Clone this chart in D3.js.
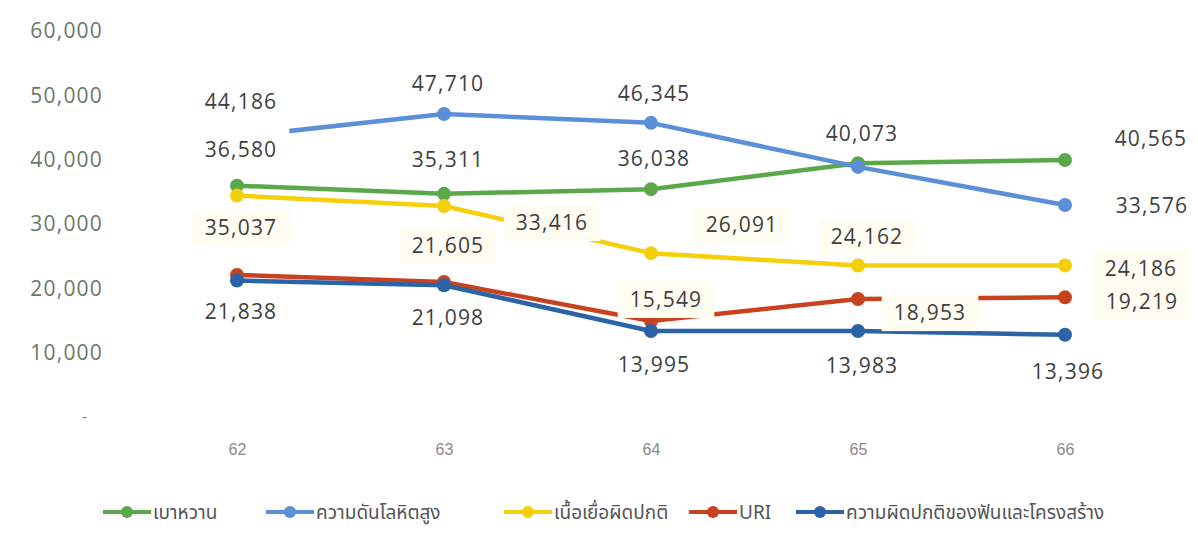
<!DOCTYPE html>
<html>
<head>
<meta charset="utf-8">
<script src="https://cdn.jsdelivr.net/npm/d3@7"></script>
<style>
  html, body { margin: 0; padding: 0; background: #ffffff; }
  svg { display: block; }
</style>
</head>
<body>
<svg id="chart" width="1198" height="538"></svg>
<script>
// ---- data ----
const years = ["62", "63", "64", "65", "66"];
const seriesNames = ["เบาหวาน", "ความดันโลหิตสูง", "เนื้อเยื่อผิดปกติ", "URI", "ความผิดปกติของฟันและโครงสร้าง"];
const diabetes     = [36580, 35311, 36038, 40073, 40565];
const hypertension = [44186, 47710, 46345, 39500, 33576]; // 65 unlabeled: estimated
const tissue       = [35037, 33416, 26091, 24162, 24186];
const uri          = [22700, 21605, 15549, 18953, 19219]; // 62 unlabeled: estimated
const dental       = [21838, 21098, 13995, 13983, 13396];
const yTicks = [0, 10000, 20000, 30000, 40000, 50000, 60000];
// which points carry a visible data label
const showLabel = [
  [true, true, true, true, true],
  [true, true, true, false, true],
  [true, true, true, true, true],
  [false, true, true, true, true],
  [true, true, true, true, true]
];

// ---- styling / layout ----
const colors = ["#5aa84a", "#5b90d8", "#f4cf0a", "#c9421f", "#2b64a6"];
const labelBg = ["#ffffff", "#ffffff", "#fffdf2", "#fffdf2", "#ffffff"];
// label offsets (dx, dy) from each point
const labelOff = [
  [[4,-36],[4,-34],[3,-31],[4,-30],[86,-21]],
  [[4,-35],[4,-30],[3,-29],[0,0],[87,1]],
  [[4,32],[108,17],[91,-28],[9,-29],[76,3]],
  [[0,0],[4,-36],[15,-21],[72,14],[77,4]],
  [[4,31],[4,32],[3,34],[4,35],[3,37]]
];
// extra top padding of label boxes
const labelPadTop = [
  [12,0,0,0,0],
  [0,0,0,0,0],
  [0,0,0,0,0],
  [0,0,0,0,0],
  [0,0,0,0,0]
];
const legendX = [103, 266, 504, 689, 796];

const svg = d3.select("#chart");
const x = d3.scalePoint().domain(years).range([237, 1065]);
const y = d3.scaleLinear().domain([0, 60000]).range([421, 35]);

const numFont = "'Open Sans', 'DejaVu Sans', sans-serif";
const fmt = d3.format(",");

// y axis labels
const yAxis = d3.axisLeft(y).tickValues(yTicks).tickSize(0).tickPadding(0)
  .tickFormat(d => d === 0 ? "-" : fmt(d));
const gy = svg.append("g").attr("transform", "translate(103,-4)").call(yAxis);
gy.select(".domain").remove();
gy.selectAll("text")
  .attr("font-family", numFont).attr("font-size", 21).attr("letter-spacing", "1.2px")
  .attr("fill", "#6a776b");
gy.selectAll(".tick").filter(d => d === 0).select("text")
  .attr("font-size", 14).attr("transform", "translate(-15,0)");

// x axis labels
const xAxis = d3.axisBottom(x).tickSize(0).tickPadding(0);
const gx = svg.append("g").attr("transform", "translate(0,444)").call(xAxis);
gx.select(".domain").remove();
gx.selectAll("text").attr("font-family", "'Liberation Sans', Arial, sans-serif")
  .attr("font-size", 16).attr("fill", "#8a8a8a");

const allSeries = [diabetes, hypertension, tissue, uri, dental];
const line = d3.line().x((d, i) => x(years[i])).y(d => y(d));

// lines and markers
allSeries.forEach((vals, s) => {
  const g = svg.append("g");
  g.append("path").datum(vals).attr("d", line)
    .attr("fill", "none").attr("stroke", colors[s]).attr("stroke-width", 4.5)
    .attr("stroke-linejoin", "round");
  g.selectAll("circle").data(vals).join("circle")
    .attr("cx", (d, i) => x(years[i])).attr("cy", d => y(d)).attr("r", 7)
    .attr("fill", colors[s]);
});

// data labels (with background boxes that cover lines)
allSeries.forEach((vals, s) => {
  vals.forEach((v, i) => {
    if (!showLabel[s][i]) return;
    const cx = x(years[i]) + labelOff[s][i][0];
    const cy = y(v) + labelOff[s][i][1];
    const g = svg.append("g");
    const t = g.append("text")
      .attr("x", cx).attr("y", cy).attr("dy", "0.35em")
      .attr("text-anchor", "middle")
      .attr("font-family", numFont).attr("font-size", 21).attr("letter-spacing", "1.2px")
      .attr("fill", "#3f3f3f").text(fmt(v));
    const bb = t.node().getBBox();
    const pt = labelPadTop[s][i];
    g.insert("rect", "text")
      .attr("x", bb.x - 12).attr("y", cy - 18 - pt)
      .attr("width", bb.width + 24).attr("height", 36 + pt)
      .attr("fill", labelBg[s]);
  });
});

// legend
const lg = svg.append("g").attr("transform", "translate(0,512)");
seriesNames.forEach((name, s) => {
  const g = lg.append("g").attr("transform", `translate(${legendX[s]},0)`);
  g.append("line").attr("x1", 0).attr("x2", 48).attr("y1", 0).attr("y2", 0)
    .attr("stroke", colors[s]).attr("stroke-width", 4);
  g.append("circle").attr("cx", 24).attr("cy", 0).attr("r", 6).attr("fill", colors[s]);
  g.append("text").attr("x", 50).attr("y", 0).attr("dy", "0.35em")
    .attr("font-family", "'Noto Sans Thai', 'Noto Sans', sans-serif")
    .attr("font-size", 19).attr("fill", "#555555").text(name);
});
</script>
</body>
</html>
